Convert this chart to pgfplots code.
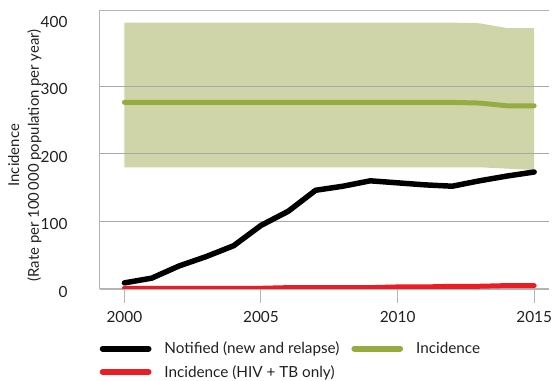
\documentclass[border=0pt]{standalone}
\usepackage{pgfplots}
\pgfplotsset{compat=1.18}
\usepackage{fontspec}
\setmainfont{Lato}
\definecolor{bandc}{HTML}{CFD5A8}
\definecolor{incg}{HTML}{96AC40}
\definecolor{redl}{HTML}{EC1C24}
\definecolor{gridc}{HTML}{A8A8A8}
\definecolor{framec}{HTML}{B4B4B4}
\definecolor{txt}{HTML}{231F20}
\begin{document}
\begin{tikzpicture}
\begin{axis}[
  at={(100bp,83.7bp)}, anchor=south west,
  scale only axis, width=452bp, height=279.8bp,
  xmin=1999.09, xmax=2015.56, ymin=0, ymax=412,
  axis x line=box, axis y line=left,
  axis line style={framec, line width=1.2bp, -},
  xtick={2000,2005,2010,2015},
  xtick pos=bottom,
  tick align=outside,
  x tick style={framec, line width=1bp},
  major tick length=14bp,
  ytick={0,100,200,300,400},
  y tick style={draw=none},
  /pgf/number format/assume math mode=true,
  /pgf/number format/1000 sep={},
  ticklabel style={font=\fontsize{15.5}{18}\selectfont, text=txt},
  xticklabel style={anchor=north, inner sep=0pt, yshift=-8bp},
  yticklabel style={anchor=east, inner sep=0pt, xshift=-18bp, yshift=-3bp},
  ylabel={Incidence\\(Rate per 100\,000 population per year)},
  ylabel style={at={(axis description cs:-0.166,0.48)}, anchor=center, rotate=0,
    align=center, font=\fontsize{15}{20}\selectfont, text=txt},
  legend columns=2,
  legend cell align=left,
  legend style={at={(axis description cs:0,0)}, anchor=north west, xshift=0bp, yshift=-51bp,
    draw=none, fill=none, inner sep=0pt, row sep=6bp,
    font=\fontsize{15.4}{18}\selectfont, text=txt,
    /tikz/every odd column/.append style={column sep=11bp},
    /tikz/every even column/.append style={column sep=10bp}},
  legend image code/.code={\draw[line width=6bp, line cap=round, #1] (3bp,0bp) -- (49bp,0bp);},
]
\addplot[fill=bandc, draw=none, forget plot] coordinates {
 (2000,394) (2001,394) (2002,394) (2003,394) (2004,394) (2005,394) (2006,394) (2007,394)
 (2008,394) (2009,394) (2010,394) (2011,394) (2012,394) (2013,393) (2014,386) (2015,386)
 (2015,176) (2014,178) (2013,180) (2012,180) (2011,180) (2010,180) (2009,180) (2008,180)
 (2007,180) (2006,180) (2005,180) (2004,180) (2003,180) (2002,180) (2001,180) (2000,180)} -- cycle;
\addplot[gridc, line width=1.2bp, forget plot] coordinates {(1999.09,100) (2015.56,100)};
\addplot[gridc, line width=1.2bp, forget plot] coordinates {(1999.09,200) (2015.56,200)};
\addplot[gridc, line width=1.2bp, forget plot] coordinates {(1999.09,300) (2015.56,300)};
\addplot[black, line width=5.5bp, line cap=round, line join=round] coordinates {
 (2000,9) (2001,16) (2002,34) (2003,48) (2004,64) (2005,94) (2006,115) (2007,146)
 (2008,152) (2009,160) (2010,157) (2011,154) (2012,152) (2013,160) (2014,167) (2015,173)};
\addlegendentry{Notified (new and relapse)}
\addplot[incg, line width=5bp, line cap=round, line join=round] coordinates {
 (2000,276) (2001,276) (2002,276) (2003,276) (2004,276) (2005,276) (2006,276) (2007,276)
 (2008,276) (2009,276) (2010,276) (2011,276) (2012,276) (2013,275) (2014,271) (2015,271)};
\addlegendentry{Incidence}
\addplot[redl, line width=5bp, line cap=round, line join=round] coordinates {
 (2000,1) (2001,1) (2002,1) (2003,1) (2004,1) (2005,1) (2006,2) (2007,2)
 (2008,2) (2009,2) (2010,3) (2011,3) (2012,4) (2013,4) (2014,5) (2015,5)};
\addlegendentry{Incidence (HIV + TB only)}
\end{axis}
\useasboundingbox (0,0) rectangle (552bp,374bp);
\end{tikzpicture}
\end{document}
